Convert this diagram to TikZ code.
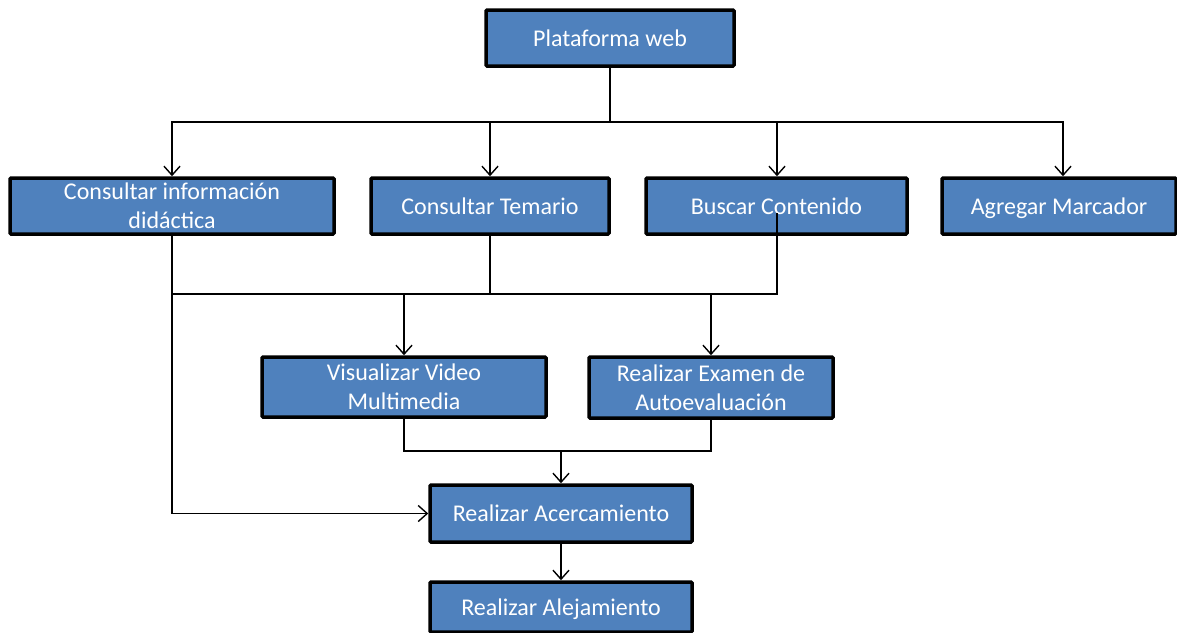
\documentclass[tikz,border=0pt]{standalone}
\usepackage{fontspec}
\setmainfont{Carlito}
\usetikzlibrary{arrows.meta}
\definecolor{boxblue}{RGB}{79,129,189}
\tikzset{
  box/.style={draw=black, line width=3.5pt, fill=boxblue, text=white,
    inner sep=0pt, rounded corners=1pt,
    font=\fontsize{24}{29}\selectfont},
  oneline/.style={text height=17.5pt, text depth=1.5pt},
  twoline/.style={align=center},
  link/.style={draw=black, line width=1.4pt},
  arr/.style={link, -{Straight Barb[length=9pt,width=16pt,line width=1.4pt]}}
}
\begin{document}
\begin{tikzpicture}[x=1pt,y=-1pt]
\useasboundingbox (0,0) rectangle (1177,632);
% boxes
\node[box, oneline, minimum width=248pt, minimum height=56pt] (pw)  at (610,38)    {Plataforma web};
\node[box, twoline, minimum width=324pt, minimum height=56pt] (cid) at (172,206)   {Consultar información\\didáctica};
\node[box, oneline, minimum width=238pt, minimum height=56pt] (ct)  at (490,206)   {Consultar Temario};
\node[box, oneline, minimum width=261pt, minimum height=56pt] (bc)  at (776.5,206) {Buscar Contenido};
\node[box, oneline, minimum width=234pt, minimum height=56pt] (am)  at (1059,206)  {Agregar Marcador};
\node[box, twoline, minimum width=284pt, minimum height=60pt] (vv)  at (404,387)   {Visualizar Video\\Multimedia};
\node[box, twoline, minimum width=244pt, minimum height=61pt] (re)  at (711,387.5) {Realizar Examen de\\Autoevaluación};
\node[box, oneline, minimum width=262pt, minimum height=57pt] (ra)  at (561,513.5) {Realizar Acercamiento};
\node[box, oneline, minimum width=262pt, minimum height=50pt] (ral) at (561,607)   {Realizar Alejamiento};
% top distribution bus
\coordinate (bus) at (610,122);
\draw[link] (pw.south) -- (bus);
\draw[arr] (bus) -| (cid.north);
\draw[arr] (bus) -| (ct.north);
\draw[arr] (bus) -| ([xshift=0.5pt]bc.north);
\draw[arr] (bus) -| ([xshift=4pt]am.north);
% middle bus feeding video and exam
\coordinate (mid) at (173,294);
\coordinate (bcin) at (777,213);
\draw[link] (ct.south) |- (mid);
\draw[link] (bcin) |- (mid);
\draw[arr] (vv.north |- mid) -- (vv.north);
\draw[arr] (re.north |- mid) -- (re.north);
% left branch straight to zoom-in
\draw[arr] (cid.south) |- (ra.west);
% merge of video and exam
\coordinate (low) at (561,451);
\draw[link] (vv.south) |- (low) -| (re.south);
\draw[arr] (low) -- (ra.north);
\draw[arr] (ra.south) -- (ral.north);
\end{tikzpicture}
\end{document}
